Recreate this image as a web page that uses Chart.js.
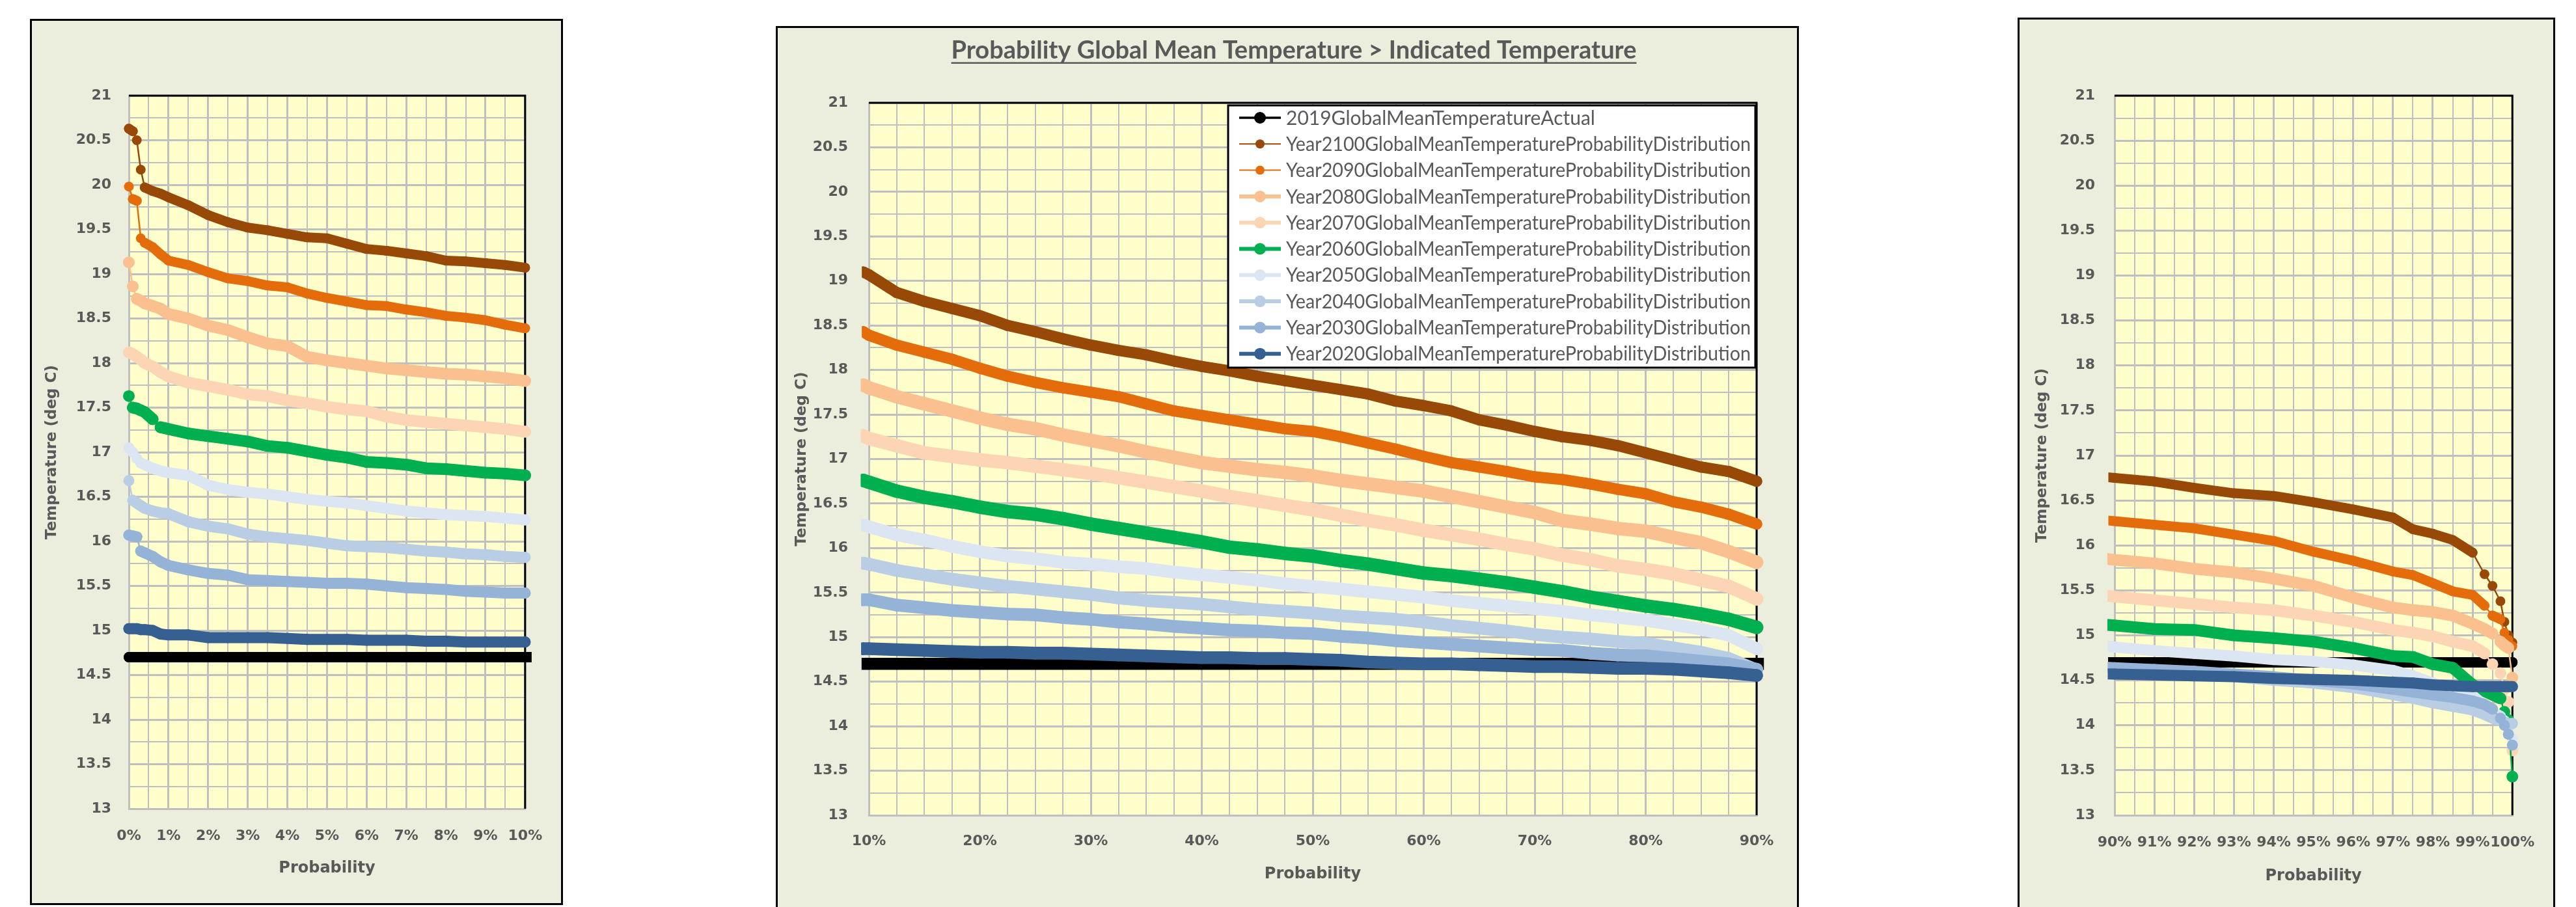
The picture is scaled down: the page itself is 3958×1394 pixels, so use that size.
<!DOCTYPE html>
<html>
<head>
<meta charset="utf-8">
<script src="https://cdn.jsdelivr.net/npm/chart.js@4.4.1/dist/chart.umd.min.js"></script>
<style>
  html, body { margin: 0; padding: 0; background: #fff; width: 3958px; height: 1394px; overflow: hidden; }
  .panel { position: absolute; box-sizing: border-box; border: 3px solid #000; background: #EBEEDD; overflow: hidden; }
  .panel canvas { position: absolute; left: 0; top: 0; }
</style>
</head>
<body>
<div class="panel" style="left:46px;top:29px;width:819px;height:1362px"><canvas id="cLeft"></canvas></div>
<div class="panel" style="left:1192px;top:40px;width:1572px;height:1380px"><canvas id="cMid"></canvas></div>
<div class="panel" style="left:3100px;top:27px;width:826px;height:1380px"><canvas id="cRight"></canvas></div>
<script>
// probability (%) of exceeding the temperature, shared by the distribution series
const probs = [0, 0.1, 0.2, 0.3, 0.4, 0.6, 0.8, 1,
  1.5, 2, 2.5, 3, 3.5, 4, 4.5, 5, 5.5, 6, 6.5, 7, 7.5, 8, 8.5, 9, 9.5, 10,
  12.5, 15, 17.5, 20, 22.5, 25, 27.5, 30, 32.5, 35, 37.5, 40, 42.5, 45, 47.5, 50, 52.5, 55, 57.5, 60, 62.5, 65, 67.5, 70, 72.5, 75, 77.5, 80, 82.5, 85, 87.5,
  90, 91, 92, 93, 94, 95, 96, 97, 97.5, 98, 98.5, 99, 99.3, 99.5, 99.7, 99.8, 99.9, 100];

const actualProbs = [0, 100];
const actualTemps = [14.7, 14.7];

const t2100 = [20.63, 20.60, 20.50, 20.17, 19.97, 19.93, 19.90, 19.86,
  19.77, 19.66, 19.58, 19.52, 19.49, 19.45, 19.41, 19.40, 19.34, 19.28, 19.26, 19.23, 19.20, 19.15, 19.14, 19.12, 19.10, 19.07,
  18.87, 18.77, 18.69, 18.61, 18.50, 18.43, 18.35, 18.28, 18.22, 18.17, 18.10, 18.04, 17.99, 17.93, 17.88, 17.83, 17.78, 17.73, 17.65, 17.60, 17.54, 17.44, 17.38, 17.31, 17.25, 17.21, 17.15, 17.07, 16.99, 16.91, 16.86,
  16.75, 16.71, 16.64, 16.58, 16.55, 16.48, 16.40, 16.31, 16.18, 16.13, 16.06, 15.92, 15.68, 15.55, 15.38, 15.15, 15.00, 14.92];

const t2090 = [19.98, 19.84, 19.82, 19.40, 19.35, 19.30, 19.22, 19.15,
  19.10, 19.02, 18.95, 18.92, 18.87, 18.85, 18.78, 18.73, 18.69, 18.65, 18.64, 18.60, 18.57, 18.53, 18.51, 18.48, 18.43, 18.39,
  18.28, 18.20, 18.12, 18.02, 17.93, 17.86, 17.80, 17.75, 17.70, 17.62, 17.54, 17.49, 17.44, 17.39, 17.34, 17.31, 17.25, 17.18, 17.11, 17.03, 16.96, 16.91, 16.86, 16.80, 16.77, 16.72, 16.66, 16.61, 16.52, 16.46, 16.38,
  16.27, 16.23, 16.19, 16.12, 16.05, 15.93, 15.83, 15.71, 15.67, 15.58, 15.49, 15.45, 15.33, 15.22, 15.18, 15.03, 14.95, 14.88];

const t2080 = [19.13, 18.86, 18.72, 18.70, 18.67, 18.64, 18.61, 18.55,
  18.50, 18.42, 18.37, 18.29, 18.22, 18.19, 18.07, 18.03, 18.00, 17.97, 17.94, 17.92, 17.90, 17.88, 17.87, 17.85, 17.83, 17.80,
  17.70, 17.62, 17.54, 17.46, 17.39, 17.34, 17.27, 17.21, 17.15, 17.08, 17.02, 16.96, 16.92, 16.88, 16.85, 16.81, 16.76, 16.72, 16.68, 16.64, 16.58, 16.52, 16.46, 16.40, 16.31, 16.27, 16.22, 16.19, 16.12, 16.06, 15.96,
  15.84, 15.80, 15.74, 15.70, 15.63, 15.55, 15.42, 15.31, 15.28, 15.26, 15.22, 15.13, 15.07, 15.02, 14.93, 14.89, 14.86, 14.53];

const t2070 = [18.12, 18.10, 18.07, 18.04, 18.00, 17.96, 17.90, 17.85,
  17.78, 17.74, 17.70, 17.65, 17.63, 17.58, 17.55, 17.51, 17.48, 17.46, 17.40, 17.36, 17.34, 17.32, 17.30, 17.28, 17.26, 17.23,
  17.15, 17.07, 17.03, 16.99, 16.96, 16.92, 16.88, 16.84, 16.79, 16.74, 16.69, 16.64, 16.58, 16.53, 16.48, 16.43, 16.37, 16.31, 16.26, 16.20, 16.15, 16.10, 16.04, 15.99, 15.92, 15.87, 15.80, 15.76, 15.71, 15.64, 15.57,
  15.43, 15.39, 15.35, 15.31, 15.28, 15.22, 15.15, 15.06, 15.03, 14.99, 14.93, 14.88, 14.80, 14.68, 14.58, 14.40, 14.26, 13.72];

const t2060 = [17.63, 17.50, 17.49, 17.47, 17.45, 17.37, 17.28, 17.26,
  17.21, 17.18, 17.15, 17.12, 17.07, 17.05, 17.01, 16.97, 16.94, 16.89, 16.88, 16.86, 16.82, 16.81, 16.79, 16.77, 16.76, 16.74,
  16.64, 16.57, 16.52, 16.46, 16.41, 16.38, 16.33, 16.27, 16.22, 16.17, 16.12, 16.07, 16.01, 15.98, 15.94, 15.91, 15.86, 15.82, 15.77, 15.72, 15.69, 15.65, 15.61, 15.56, 15.51, 15.45, 15.40, 15.35, 15.31, 15.26, 15.20,
  15.11, 15.07, 15.06, 15.00, 14.97, 14.93, 14.86, 14.77, 14.76, 14.68, 14.64, 14.45, 14.38, 14.34, 14.30, 14.15, 14.06, 13.43];

const t2050 = [17.05, 17.00, 16.93, 16.88, 16.86, 16.82, 16.79, 16.77,
  16.74, 16.63, 16.58, 16.55, 16.53, 16.50, 16.47, 16.45, 16.43, 16.40, 16.37, 16.34, 16.32, 16.30, 16.29, 16.28, 16.26, 16.24,
  16.15, 16.09, 16.02, 15.96, 15.91, 15.88, 15.84, 15.82, 15.79, 15.77, 15.73, 15.70, 15.67, 15.64, 15.60, 15.57, 15.54, 15.51, 15.48, 15.45, 15.41, 15.38, 15.35, 15.32, 15.29, 15.25, 15.22, 15.19, 15.14, 15.09, 15.02,
  14.87, 14.83, 14.80, 14.77, 14.73, 14.71, 14.67, 14.61, 14.55, 14.47, 14.40, 14.33, 14.22, 14.15, 14.10, 14.05, 13.95, 13.85];

const t2040 = [16.68, 16.46, 16.43, 16.40, 16.37, 16.34, 16.32, 16.31,
  16.22, 16.17, 16.14, 16.08, 16.05, 16.03, 16.01, 15.98, 15.95, 15.94, 15.93, 15.91, 15.89, 15.88, 15.86, 15.85, 15.83, 15.82,
  15.75, 15.70, 15.65, 15.61, 15.57, 15.54, 15.51, 15.48, 15.44, 15.41, 15.39, 15.37, 15.34, 15.31, 15.29, 15.27, 15.24, 15.22, 15.20, 15.17, 15.13, 15.10, 15.07, 15.03, 15.00, 14.98, 14.95, 14.93, 14.88, 14.83, 14.76,
  14.63, 14.60, 14.57, 14.54, 14.50, 14.47, 14.42, 14.34, 14.30, 14.25, 14.21, 14.17, 14.12, 14.08, 14.05, 14.03, 14.02, 14.02];

const t2030 = [16.07, 16.06, 16.05, 15.89, 15.87, 15.83, 15.77, 15.73,
  15.68, 15.64, 15.62, 15.57, 15.56, 15.55, 15.54, 15.53, 15.53, 15.52, 15.50, 15.48, 15.47, 15.46, 15.44, 15.43, 15.42, 15.42,
  15.36, 15.33, 15.30, 15.28, 15.26, 15.25, 15.22, 15.20, 15.17, 15.15, 15.12, 15.10, 15.08, 15.07, 15.05, 15.04, 15.01, 14.99, 14.96, 14.94, 14.92, 14.90, 14.88, 14.86, 14.85, 14.82, 14.80, 14.79, 14.76, 14.73, 14.70,
  14.64, 14.62, 14.60, 14.57, 14.54, 14.50, 14.46, 14.40, 14.37, 14.34, 14.31, 14.27, 14.23, 14.18, 14.08, 14.00, 13.90, 13.78];

const t2020 = [15.02, 15.02, 15.02, 15.01, 15.01, 15.00, 14.96, 14.95,
  14.95, 14.92, 14.92, 14.92, 14.92, 14.91, 14.90, 14.90, 14.90, 14.89, 14.89, 14.89, 14.88, 14.88, 14.87, 14.87, 14.87, 14.87,
  14.86, 14.85, 14.84, 14.83, 14.83, 14.82, 14.82, 14.81, 14.80, 14.79, 14.78, 14.77, 14.77, 14.76, 14.76, 14.75, 14.74, 14.72, 14.71, 14.70, 14.70, 14.69, 14.68, 14.67, 14.67, 14.66, 14.65, 14.65, 14.64, 14.62, 14.60,
  14.57, 14.56, 14.55, 14.54, 14.52, 14.51, 14.50, 14.48, 14.47, 14.45, 14.44, 14.43, 14.43, 14.43, 14.43, 14.43, 14.43, 14.43];

const seriesLabels = [
  '2019GlobalMeanTemperatureActual',
  'Year2100GlobalMeanTemperatureProbabilityDistribution',
  'Year2090GlobalMeanTemperatureProbabilityDistribution',
  'Year2080GlobalMeanTemperatureProbabilityDistribution',
  'Year2070GlobalMeanTemperatureProbabilityDistribution',
  'Year2060GlobalMeanTemperatureProbabilityDistribution',
  'Year2050GlobalMeanTemperatureProbabilityDistribution',
  'Year2040GlobalMeanTemperatureProbabilityDistribution',
  'Year2030GlobalMeanTemperatureProbabilityDistribution',
  'Year2020GlobalMeanTemperatureProbabilityDistribution'
];
const seriesX = [actualProbs, probs, probs, probs, probs, probs, probs, probs, probs, probs];
const seriesY = [actualTemps, t2100, t2090, t2080, t2070, t2060, t2050, t2040, t2030, t2020];

const tempMin = 13, tempMax = 21;
const chartTitle = 'Probability Global Mean Temperature > Indicated Temperature';

// styles
const seriesColors = ['#000000', '#984807', '#E46C0A', '#FAC090', '#FCD5B5', '#00B050', '#DCE6F2', '#B9CDE5', '#95B3D7', '#376092'];
const markerR = [8, 7.5, 7.5, 9, 9, 9, 8.5, 8.5, 8.5, 8.5];
const legendLineW = [3.5, 2, 2, 6, 6, 6, 6, 6, 6, 6];
const legendMarkerR = [9, 7, 7, 9, 9, 9, 9, 9, 9, 9];
const GRAY = '#595959';
const GRID = '#BFBFBF';
const tickFont = {family: 'DejaVu Sans', size: 22, weight: 'bold'};

function makeDatasets(scale) {
  return seriesY.map((ys, i) => {
    const r = markerR[i] * scale;
    return {
      label: seriesLabels[i],
      data: ys.map((t, k) => ({x: seriesX[i][k], y: t})),
      borderColor: seriesColors[i],
      backgroundColor: seriesColors[i],
      pointBackgroundColor: seriesColors[i],
      pointBorderWidth: 0,
      pointRadius: r,
      pointHoverRadius: r,
      borderWidth: 2 * r,
      borderCapStyle: 'round',
      borderJoinStyle: 'round',
      tension: 0,
      order: seriesY.length - 1 - i,
      clip: {left: r + 2, right: r + 2, top: 0, bottom: 0},
      segment: {
        // steep jumps: thin connector between separate markers
        borderWidth: c => Math.abs(c.p1.y - c.p0.y) > Math.abs(c.p1.x - c.p0.x) ? 2.5 : 2 * r
      }
    };
  });
}

const plotFrame = {
  id: 'plotFrame',
  beforeDraw(chart) {
    const {ctx, chartArea: a} = chart;
    ctx.save();
    ctx.fillStyle = '#FFFFCC';
    ctx.fillRect(a.left, a.top, a.right - a.left, a.bottom - a.top);
    ctx.restore();
  },
  beforeDatasetsDraw(chart) {
    const {ctx, chartArea: a} = chart;
    ctx.save();
    ctx.strokeStyle = '#000';
    ctx.lineWidth = 3;
    ctx.beginPath();
    ctx.moveTo(a.left, a.top);
    ctx.lineTo(a.right, a.top);
    ctx.lineTo(a.right, a.bottom);
    ctx.stroke();
    ctx.restore();
  }
};

const titleUnderline = {
  id: 'titleUnderline',
  afterDraw(chart) {
    const tb = chart.titleBlock;
    if (!tb || !tb.options.display) return;
    const ctx = chart.ctx;
    const f = tb.options.font;
    ctx.save();
    ctx.font = 'bold ' + f.size + 'px ' + f.family;
    const w = ctx.measureText(tb.options.text).width;
    const cx = (tb.left + tb.right) / 2;
    const y = tb.top + tb.options.padding.top + f.size * 1.2 / 2 + 19;
    ctx.strokeStyle = GRAY;
    ctx.lineWidth = 2.5;
    ctx.beginPath();
    ctx.moveTo(cx - w / 2, y);
    ctx.lineTo(cx + w / 2, y);
    ctx.stroke();
    ctx.restore();
  }
};

const boxLegend = {
  id: 'boxLegend',
  afterDraw(chart) {
    const {ctx, chartArea: a} = chart;
    const w = 810, h = 403;
    const x0 = a.right - 2 - w, y0 = a.top + 4;
    ctx.save();
    ctx.fillStyle = '#fff';
    ctx.fillRect(x0, y0, w, h);
    ctx.strokeStyle = '#000';
    ctx.lineWidth = 3;
    ctx.strokeRect(x0, y0, w, h);
    seriesLabels.forEach((label, i) => {
      const yc = y0 + 19 + i * 40.3;
      ctx.strokeStyle = seriesColors[i];
      ctx.lineWidth = legendLineW[i];
      ctx.beginPath();
      ctx.moveTo(x0 + 17, yc);
      ctx.lineTo(x0 + 81, yc);
      ctx.stroke();
      ctx.fillStyle = seriesColors[i];
      ctx.beginPath();
      ctx.arc(x0 + 49, yc, legendMarkerR[i], 0, Math.PI * 2);
      ctx.fill();
      ctx.fillStyle = GRAY;
      ctx.font = '30px Lato';
      ctx.textBaseline = 'middle';
      ctx.textAlign = 'left';
      ctx.fillText(label, x0 + 89, yc + 1, w - 96);
    });
    ctx.restore();
  }
};

function near(v, m) {
  return Math.abs(v / m - Math.round(v / m)) < 1e-6;
}

function makePanel(p) {
  const canvas = document.getElementById(p.id);
  canvas.width = p.w;
  canvas.height = p.h;
  const scales = {
    x: {
      type: 'linear', position: 'bottom', min: p.xMin, max: p.xMax,
      afterFit: s => { s.height = p.xAxisH; },
      ticks: {
        stepSize: p.xStep, autoSkip: false, maxRotation: 0, minRotation: 0,
        padding: p.xTickPad, color: GRAY, font: tickFont,
        callback: v => near(v, p.xMajor) ? Math.round(v) + '%' : ''
      },
      grid: {color: GRID, drawTicks: false, lineWidth: c => (c.tick && near(c.tick.value, p.xMajor)) ? 3 : 2},
      border: {display: true, color: GRID, width: 3},
      title: {display: true, text: 'Probability', color: GRAY,
        font: {family: 'DejaVu Sans', size: 24, weight: 'bold'}, padding: {top: 0, bottom: p.xTitlePad}}
    },
    y: {
      type: 'linear', position: 'left', min: tempMin, max: tempMax,
      afterFit: s => { s.width = p.yAxisW; },
      ticks: {
        stepSize: 0.25, autoSkip: false, padding: p.yTickPad, color: GRAY, font: tickFont,
        callback: v => near(v, 0.5) ? String(Math.round(v * 2) / 2) : ''
      },
      grid: {color: GRID, drawTicks: false, lineWidth: c => (c.tick && near(c.tick.value, 0.5)) ? 3 : 2},
      border: {display: true, color: GRID, width: 3},
      title: {display: true, text: 'Temperature (deg C)', color: GRAY,
        font: {family: 'DejaVu Sans', size: 23, weight: 'bold'}, padding: {top: p.yTitlePad, bottom: 0}}
    }
  };
  if (p.rightGap) {
    scales.yR = {
      position: 'right', display: true,
      afterFit: s => { s.width = p.rightGap; },
      grid: {display: false}, border: {display: false}, ticks: {display: false}
    };
  }
  const plugins = [plotFrame];
  if (p.title) plugins.push(titleUnderline);
  if (p.legend) plugins.push(boxLegend);
  new Chart(canvas, {
    type: 'line',
    data: {datasets: makeDatasets(p.markerScale)},
    options: {
      responsive: false,
      animation: false,
      events: [],
      layout: {padding: {left: p.padLeft, top: p.padTop, right: p.padRight, bottom: 0}},
      plugins: {
        legend: {display: false},
        tooltip: {enabled: false},
        title: p.title ? {
          display: true, text: chartTitle, color: GRAY,
          font: {family: 'Lato', size: 38, weight: 'bold'},
          padding: {top: 12, bottom: 57.4}
        } : {display: false}
      },
      scales: scales
    },
    plugins: plugins
  });
}

makePanel({id: 'cLeft', w: 813, h: 1356, padLeft: 0, padTop: 115, padRight: 47,
  yAxisW: 149, xAxisH: 145, xMin: 0, xMax: 10, xStep: 0.5, xMajor: 1, markerScale: 1,
  yTickPad: 27, xTickPad: 28.8, yTitlePad: 17.2, xTitlePad: 38.6});

makePanel({id: 'cMid', w: 1566, h: 1374, padLeft: 20, padTop: 0, padRight: 0, rightGap: 62,
  yAxisW: 120, xAxisH: 164, xMin: 10, xMax: 90, xStep: 2.5, xMajor: 10, markerScale: 1.15,
  yTickPad: 32, xTickPad: 26.8, yTitlePad: 3.2, xTitlePad: 58.6, title: true, legend: true});

makePanel({id: 'cRight', w: 820, h: 1374, padLeft: 0, padTop: 117, padRight: 54,
  yAxisW: 146, xAxisH: 151, xMin: 90, xMax: 100, xStep: 0.5, xMajor: 1, markerScale: 1,
  yTickPad: 30, xTickPad: 28.8, yTitlePad: 21.2, xTitlePad: 42.6});
</script>
</body>
</html>
